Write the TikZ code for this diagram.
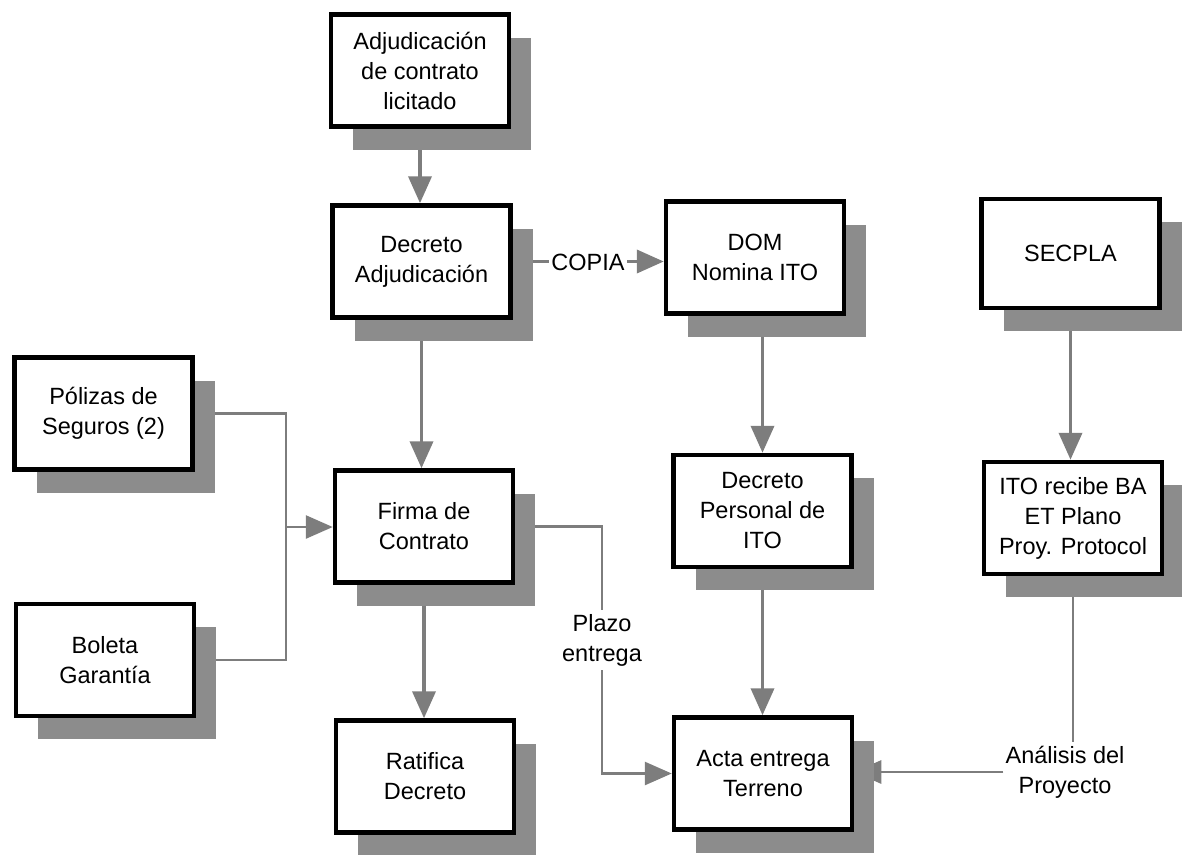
\documentclass[tikz,border=0pt]{standalone}
\usepackage{fontspec}
\setmainfont{Liberation Sans}
\usetikzlibrary{arrows.meta,shadows}
\pgfdeclarelayer{background}
\pgfsetlayers{background,main}
\definecolor{shadowgray}{RGB}{140,140,140}
\definecolor{linegray}{RGB}{125,125,125}
\tikzset{
  box/.style={draw=black, line width=4.5pt, fill=white, minimum width=178pt, minimum height=112pt,
    align=center, inner sep=2pt, font=\fontsize{23.5}{30}\selectfont,
    drop shadow={shadow xshift=22pt, shadow yshift=-23pt, fill=shadowgray, opacity=1}},
  lbl/.style={fill=white, align=center, inner xsep=2pt, inner ysep=4pt, font=\fontsize{23.5}{30}\selectfont},
  flow/.style={draw=linegray, line width=3.8pt, -{Triangle[length=27pt,width=23pt]}, color=linegray},
  thinflow/.style={draw=linegray, line width=2.8pt, -{Triangle[length=27pt,width=23pt]}, color=linegray},
  thinline/.style={draw=linegray, line width=2.8pt}
}
\begin{document}
\begin{tikzpicture}[x=1pt,y=-1pt]
\useasboundingbox (0,0) rectangle (1182,854);
\node[box] (adj) at (420,70.5) {Adjudicación\\de contrato\\licitado};
\node[box] (decadj) at (421.5,261.5) {Decreto\\Adjudicación};
\node[box] (dom) at (755,257.5) {DOM\\Nomina ITO};
\node[box, minimum height=109pt] (secpla) at (1070.5,253.5) {SECPLA};
\node[box] (pol) at (103.5,413.5) {Pólizas de\\Seguros (2)};
\node[box] (firma) at (424,526.5) {Firma de\\Contrato};
\node[box] (decpers) at (762.5,511) {Decreto\\Personal de\\ITO};
\node[box] (ito) at (1073,518) {ITO recibe BA\\ET Plano\\Proy. Protocol};
\node[box] (bol) at (105,660) {Boleta\\Garantía};
\node[box] (rat) at (425,776.5) {Ratifica\\Decreto};
\node[box] (acta) at (763,773.5) {Acta entrega\\Terreno};

\node[lbl, inner ysep=2pt] (copia) at (588,262) {COPIA};
\node[lbl] (plazo) at (602,640) {Plazo\\entrega};
\node[lbl] (ana) at (1065,772) {Análisis del\\Proyecto};
\coordinate (jn) at (286,527);

\begin{pgfonlayer}{background}
\draw[flow] (adj.south) -- (adj.south |- decadj.north);
\draw[flow] (decadj.south) -- (decadj.south |- firma.north);
\draw[flow] (firma.south) -- (firma.south |- rat.north);
\draw[flow] (decadj.east) -- (decadj.east -| dom.west);
\draw[flow] (decpers.north |- dom.south) -- (decpers.north);
\draw[flow] (decpers.south) -- (decpers.south |- acta.north);
\draw[flow] (secpla.south) -- (secpla.south |- ito.north);
\draw[thinline] (pol.east) -| (jn);
\draw[thinline] (bol.east) -| (jn);
\draw[thinflow] (jn) -- (jn -| firma.west);
\draw[thinline] (firma.east) -| (plazo.north);
\draw[thinflow] (plazo.south) |- (acta.west);
\draw[thinline] (ito.south) -- (ito.south |- ana.north);
\draw[thinflow] (ana.west) -- (ana.west -| acta.east);
\end{pgfonlayer}
\end{tikzpicture}
\end{document}
